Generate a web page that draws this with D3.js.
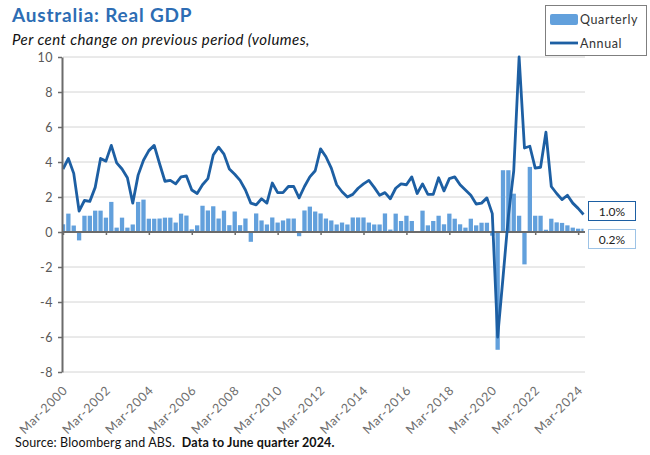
<!DOCTYPE html>
<html><head><meta charset="utf-8">
<script src="https://cdn.jsdelivr.net/npm/d3@7"></script>
<style>body{margin:0;background:#fff} svg{display:block}</style>
</head><body>
<svg id="c" width="650" height="455"></svg>
<script>
// ---- DATA ----
const monthNames = ["Mar","Jun","Sep","Dec"];
const firstYear = 2000, lastYear = 2024;
const quarters = [];
for (let yr = firstYear; yr <= lastYear; yr++) for (const m of monthNames) quarters.push(m + "-" + yr);
quarters.splice(98); // Mar-2000 .. Jun-2024

const quarterly = [0.44,1.05,0.37,-0.48,0.93,0.93,1.22,1.22,0.82,1.72,0.25,0.82,0.25,0.43,1.72,1.85,
  0.76,0.76,0.77,0.82,0.82,0.54,1.05,0.94,0.15,0.38,1.5,1.23,1.47,0.77,1.22,0.39,1.17,0.39,0.77,-0.56,
  1.06,0.66,0.43,0.83,0.54,0.66,0.77,0.77,-0.24,1.23,1.45,1.17,1.06,0.77,0.66,0.43,0.54,0.43,0.83,0.83,
  0.83,0.54,0.43,0.43,1.06,0.14,1.05,0.63,0.93,0.63,0.05,1.22,0.38,0.63,0.93,0.44,1.05,0.76,0.44,0.25,
  0.76,0.38,0.53,0.53,-0.21,-6.73,3.53,3.53,2.19,0.93,-1.85,3.72,0.93,0.93,0.13,0.76,0.55,0.52,0.38,0.25,
  0.19,0.19];
const annual = [3.6,4.2,3.35,1.2,1.8,1.75,2.55,4.2,4.05,4.95,3.95,3.6,3.1,1.65,3.25,4.1,4.65,4.95,3.9,2.9,
  2.95,2.75,3.15,3.2,2.4,2.2,2.7,3.05,4.4,4.85,4.45,3.6,3.3,2.95,2.4,1.65,1.55,1.9,1.65,2.8,2.25,2.25,2.6,
  2.6,1.95,2.6,3.15,3.5,4.75,4.3,3.65,2.7,2.3,2.0,2.15,2.5,2.75,2.95,2.55,2.1,2.25,1.9,2.5,2.75,2.7,3.15,
  2.2,2.75,2.15,2.15,3.1,2.35,3.05,3.15,2.7,2.4,2.1,1.6,1.65,1.95,1.05,-6.0,-2.6,0.9,3.5,10.0,4.8,4.9,3.65,
  3.7,5.7,2.6,2.2,1.85,2.1,1.65,1.35,1.0];
const xTickLabels = ["Mar-2000","Mar-2002","Mar-2004","Mar-2006","Mar-2008","Mar-2010","Mar-2012",
  "Mar-2014","Mar-2016","Mar-2018","Mar-2020","Mar-2022","Mar-2024"];
const yTicks = [-8,-6,-4,-2,0,2,4,6,8,10];
const latestLabels = ["1.0%","0.2%"];

// ---- CHART ----
const svg = d3.select("#c");
const FONT = "Lato, 'Noto Sans', sans-serif";
const pLeft = 63, pRight = 583.5, gridRight = 585, pTop = 57, pBottom = 372;
const x = d3.scalePoint().domain(quarters).range([pLeft, pRight]);
const y = d3.scaleLinear().domain([-8, 10]).range([pBottom, pTop]);
const barColor = "#62a0dc", lineColor = "#1d5fa3", axisColor = "#6b6b6b", textColor = "#595959";

svg.append("defs").append("clipPath").attr("id","clip")
  .append("rect").attr("x", pLeft).attr("y", 0).attr("width", pRight - pLeft).attr("height", 455);

// gridlines
svg.append("g").selectAll("line").data(yTicks.filter(d => d !== 0)).join("line")
  .attr("x1", pLeft).attr("x2", gridRight).attr("y1", d => y(d)).attr("y2", d => y(d))
  .attr("stroke", "#d4d4d4").attr("stroke-width", 1);

// bars
const bw = 4.3;
svg.append("g").attr("clip-path","url(#clip)").selectAll("rect").data(quarterly).join("rect")
  .attr("x", (d,i) => x(quarters[i]) - bw/2).attr("width", bw)
  .attr("y", d => y(Math.max(0,d))).attr("height", d => Math.abs(y(d) - y(0)))
  .attr("fill", barColor);

// zero axis with ticks
const xAxis = svg.append("g").attr("transform", `translate(0,${y(0)})`)
  .call(d3.axisBottom(x).tickValues(xTickLabels).tickSize(3).tickSizeOuter(0).tickFormat(""));
xAxis.select(".domain").remove();
xAxis.selectAll("line").attr("stroke", axisColor).attr("stroke-width", 1.5);
svg.append("line").attr("x1", pLeft).attr("x2", gridRight).attr("y1", y(0)).attr("y2", y(0))
  .attr("stroke", axisColor).attr("stroke-width", 2);

// annual line
svg.append("path").datum(annual)
  .attr("d", d3.line().x((d,i) => x(quarters[i])).y(d => y(d)))
  .attr("fill","none").attr("stroke", lineColor).attr("stroke-width", 2.8).attr("stroke-linejoin","round");

// y axis
const yAxis = svg.append("g").attr("transform", `translate(${pLeft - 1},0)`)
  .call(d3.axisLeft(y).tickValues(yTicks).tickSize(4).tickSizeOuter(0).tickPadding(5));
yAxis.select(".domain").attr("stroke", axisColor).attr("stroke-width", 2);
yAxis.selectAll("line").attr("stroke", axisColor).attr("stroke-width", 1.5);
yAxis.selectAll("text").attr("fill", textColor).style("font-family", FONT).style("font-size", "12.5px")
  .style("letter-spacing", "0.5px")
  .text(d => d < 0 ? "-" + Math.abs(d) : d);

// x labels at bottom
const xLab = svg.append("g").attr("transform", `translate(0,${pBottom})`)
  .call(d3.axisBottom(x).tickValues(xTickLabels).tickSize(0).tickSizeOuter(0));
xLab.select(".domain").remove();
xLab.selectAll("text").attr("fill", "#6e6e6e").style("font-family", FONT).style("font-size", "12.5px")
  .style("letter-spacing", "0.8px")
  .attr("text-anchor", "end").attr("dy", null).attr("y", 0)
  .attr("transform", "translate(5,19) rotate(-45)");

// title & subtitle
svg.append("text").attr("x", 12).attr("y", 22).text("Australia: Real GDP")
  .style("font-family", FONT).style("font-weight", "bold").style("font-size", "19px")
  .style("letter-spacing", "0.8px").attr("fill", "#2d6db4");
svg.append("text").attr("x", 12).attr("y", 45).text("Per cent change on previous period (volumes,")
  .style("font-family", FONT).style("font-style", "italic").style("font-size", "15px")
  .style("letter-spacing", "0.45px").attr("fill", "#111");

// legend
const lg = svg.append("g");
lg.append("rect").attr("x", 545.5).attr("y", 5.5).attr("width", 101).attr("height", 50)
  .attr("fill", "#fff").attr("stroke", "#7f7f7f");
lg.append("rect").attr("x", 550).attr("y", 14).attr("width", 28).attr("height", 11).attr("rx", 2).attr("fill", barColor);
lg.append("line").attr("x1", 550).attr("x2", 578).attr("y1", 43).attr("y2", 43).attr("stroke", lineColor).attr("stroke-width", 2.8);
lg.append("text").attr("x", 580).attr("y", 24).text("Quarterly").attr("fill", "#333")
  .style("font-family", FONT).style("font-size", "12.5px").style("letter-spacing", "0.6px");
lg.append("text").attr("x", 580).attr("y", 48).text("Annual").attr("fill", "#333")
  .style("font-family", FONT).style("font-size", "12.5px").style("letter-spacing", "0.6px");

// latest value boxes
const boxes = [{t: latestLabels[0], y: 201.5, stroke: lineColor}, {t: latestLabels[1], y: 229.5, stroke: "#9dc3e6"}];
boxes.forEach(b => {
  svg.append("rect").attr("x", 588.5).attr("y", b.y).attr("width", 47).attr("height", 19)
    .attr("fill", "#fff").attr("stroke", b.stroke).attr("stroke-width", 1);
  svg.append("text").attr("x", 612).attr("y", b.y + 14).attr("text-anchor", "middle").text(b.t)
    .attr("fill", "#222").style("font-family", FONT).style("font-size", "12px");
});

// source
const src = svg.append("text").attr("x", 15).attr("y", 447).style("font-family", FONT).style("font-size", "12.5px")
  .style("white-space", "pre").style("letter-spacing", "0.15px").attr("fill", "#111");
src.append("tspan").text("Source: Bloomberg and ABS.  ");
src.append("tspan").style("font-weight", "bold").text("Data to June quarter 2024.");
</script>
</body></html>
